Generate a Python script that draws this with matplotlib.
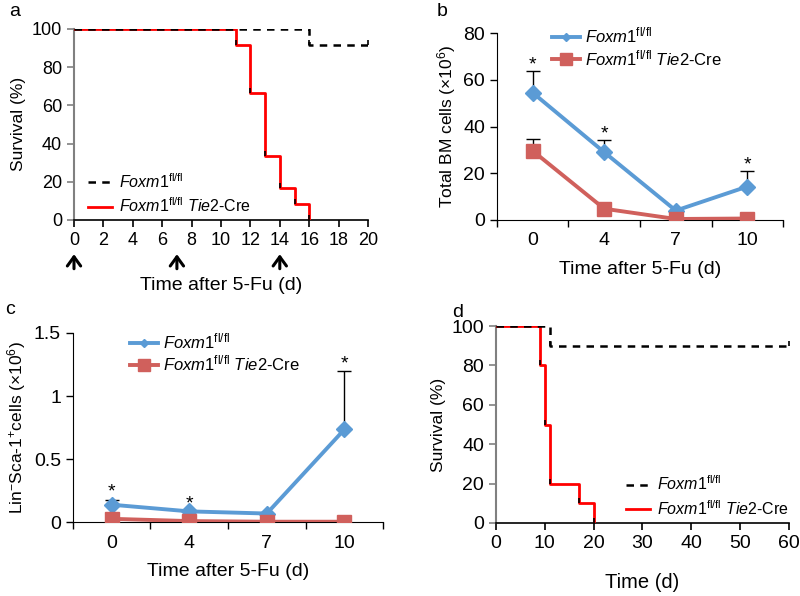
import numpy as np
import matplotlib
matplotlib.use("Agg")
from matplotlib import pyplot as plt
from matplotlib.lines import Line2D

plt.rcParams["font.family"] = ["Liberation Sans", "DejaVu Sans"]
plt.rcParams["mathtext.fontset"] = "custom"
plt.rcParams["mathtext.rm"] = "Liberation Sans"
plt.rcParams["mathtext.it"] = "Liberation Sans:italic"
plt.rcParams["font.size"] = 12

# ---------------- data ----------------
# panel a : survival after 5-Fu
a_ctrl_t = [0, 16, 20]
a_ctrl_s = [100, 91.7, 91.7]
a_ko_t = [0, 11, 12, 13, 14, 15, 16]
a_ko_s = [100, 91.7, 66.7, 33.3, 16.7, 8.3, 0]
a_xticks = [0, 2, 4, 6, 8, 10, 12, 14, 16, 18, 20]
a_arrows = [0, 7, 14]

# panel b : total BM cells
days = ["0", "4", "7", "10"]
b_ctrl = [54.5, 29.0, 4.0, 14.3]
b_ctrl_err = [9.3, 5.4, 0.0, 6.8]
b_ko = [29.6, 4.8, 0.4, 0.6]
b_ko_err = [5.1, 0.0, 0.0, 0.0]
b_star = [True, True, False, True]

# panel c : Lin- Sca-1+ cells
c_ctrl = [0.138, 0.085, 0.068, 0.735]
c_ctrl_err = [0.04, 0.0, 0.0, 0.46]
c_ko = [0.026, 0.008, 0.003, 0.003]
c_ko_err = [0.0, 0.0, 0.0, 0.0]
c_star = [True, True, False, True]

# panel d : survival
d_ctrl_t = [0, 11, 60]
d_ctrl_s = [100, 90, 90]
d_ko_t = [0, 9, 10, 11, 17, 20]
d_ko_s = [100, 80, 50, 20, 10, 0]

blue = "#5B9BD5"
red = "#D0605C"
lab_ctrl = r"$\mathit{Foxm1}^{\mathrm{fl/fl}}$"
lab_ko = r"$\mathit{Foxm1}^{\mathrm{fl/fl}}$ $\mathit{Tie2}$-Cre"

tick_up = [(0, 0), (0, 1)]


def survival(ax, t_ctrl, s_ctrl, t_ko, s_ko, xmax, fs):
    ax.step(t_ko, s_ko, where="post", color="red", lw=2, zorder=3)
    ax.step(t_ctrl, s_ctrl, where="post", color="black", lw=1.8, ls=(0, (3, 2.5)), zorder=4)
    ax.plot(t_ko[1:], s_ko[1:], ls="none", marker=tick_up, ms=7, mec="black", mew=1.2, zorder=5)
    ax.plot(t_ctrl[1:], s_ctrl[1:], ls="none", marker=tick_up, ms=7, mec="black", mew=1.2, zorder=5)
    ax.set_xlim(0, xmax)
    ax.set_ylim(0, 100)
    ax.set_yticks([0, 20, 40, 60, 80, 100])
    ax.set_ylabel("Survival (%)", fontsize=12.5)
    for s in ["top", "right"]:
        ax.spines[s].set_visible(False)
    ax.spines["left"].set_color("#808080")
    ax.spines["left"].set_linewidth(1.5)
    ax.spines["bottom"].set_linewidth(1.2)
    ax.tick_params(direction="out", length=5, width=1.2, labelsize=fs)
    ax.tick_params(axis="y", colors="#808080", labelcolor="black")
    h = [Line2D([], [], color="black", lw=1.8, ls=(0, (3, 2.5))),
         Line2D([], [], color="red", lw=2)]
    return h


def lines(ax, ctrl, ctrl_err, ko, ko_err, stars, ymax, yticks, star_off):
    x = np.arange(len(days))
    ax.errorbar(x, ctrl, yerr=[np.zeros(len(x)), ctrl_err], fmt="none",
                ecolor="black", elinewidth=1, capsize=5, capthick=1, zorder=2)
    ax.errorbar(x, ko, yerr=[np.zeros(len(x)), ko_err], fmt="none",
                ecolor="black", elinewidth=1, capsize=5, capthick=1, zorder=2)
    ax.plot(x, ctrl, color=blue, lw=2.8, marker="D", ms=8, zorder=3)
    ax.plot(x, ko, color=red, lw=2.8, marker="s", ms=10, zorder=4)
    for i in range(len(x)):
        if stars[i]:
            ax.text(x[i], ctrl[i] + ctrl_err[i] + star_off, "*", ha="center",
                    va="center", fontsize=14)
    ax.set_xlim(-0.5, len(x) - 0.5)
    ax.set_ylim(0, ymax)
    ax.set_yticks(yticks)
    ax.set_xticks(x)
    ax.set_xticklabels(days)
    ax.set_xticks(np.arange(-0.5, len(x)), minor=True)
    ax.tick_params(axis="x", which="major", length=0, pad=9, labelsize=14)
    ax.tick_params(axis="x", which="minor", length=5, width=1, direction="out")
    ax.tick_params(axis="y", length=5, width=1, direction="out", labelsize=14)
    for s in ["top", "right"]:
        ax.spines[s].set_visible(False)
    ax.set_xlabel("Time after 5-Fu (d)", labelpad=8, fontsize=14)
    h = [Line2D([], [], color=blue, lw=2.8, marker="D", ms=4),
         Line2D([], [], color=red, lw=2.8, marker="s", ms=8)]
    return h


fig = plt.figure(figsize=(8, 5.96), dpi=100)

# panel a
ax1 = fig.add_axes([0.0925, 0.631, 0.3675, 0.3205])
h = survival(ax1, a_ctrl_t, a_ctrl_s, a_ko_t, a_ko_s, 20, 13)
ax1.set_xticks(a_xticks)
ax1.set_xlabel("Time after 5-Fu (d)", labelpad=20, fontsize=14)
for t in a_arrows:
    ax1.annotate("", xy=(t, -0.165), xytext=(t, -0.27),
                 xycoords=("data", "axes fraction"),
                 textcoords=("data", "axes fraction"),
                 arrowprops=dict(arrowstyle="->,head_length=0.55,head_width=0.4",
                                 color="black", lw=2.2))
ax1.legend(h, [lab_ctrl, lab_ko], loc="lower left", bbox_to_anchor=(0.0, -0.05),
           frameon=False, fontsize=11.5, handlelength=1.5, handletextpad=0.4,
           labelspacing=0.35)

# panel b
ax2 = fig.add_axes([0.621, 0.631, 0.358, 0.3135])
h = lines(ax2, b_ctrl, b_ctrl_err, b_ko, b_ko_err, b_star, 80, [0, 20, 40, 60, 80], 2.5)
ax2.set_ylabel(r"Total BM cells (×10$^{6}$)", fontsize=12.5)
ax2.legend(h, [lab_ctrl, lab_ko], loc="upper left", bbox_to_anchor=(0.14, 1.12),
           frameon=False, fontsize=12, handlelength=1.7, handletextpad=0.3,
           labelspacing=0.15)

# panel c
ax3 = fig.add_axes([0.091, 0.124, 0.388, 0.3173])
h = lines(ax3, c_ctrl, c_ctrl_err, c_ko, c_ko_err, c_star, 1.5, [0, 0.5, 1, 1.5], 0.06)
ax3.set_yticks([0, 0.5, 1, 1.5])
ax3.set_yticklabels(["0", "0.5", "1", "1.5"])
ax3.set_ylabel(r"Lin$^{-}$Sca-1$^{+}$cells (×10$^{6}$)", fontsize=12.5)
ax3.legend(h, [lab_ctrl, lab_ko], loc="upper left", bbox_to_anchor=(0.135, 1.085),
           frameon=False, fontsize=12, handlelength=1.7, handletextpad=0.3,
           labelspacing=0.1)

# panel d
ax4 = fig.add_axes([0.62, 0.1225, 0.366, 0.3305])
h = survival(ax4, d_ctrl_t, d_ctrl_s, d_ko_t, d_ko_s, 60, 14)
ax4.set_xticks([0, 10, 20, 30, 40, 50, 60])
ax4.set_xlabel("Time (d)", labelpad=15, fontsize=14.5)
ax4.legend(h, [lab_ctrl, lab_ko], loc="lower left", bbox_to_anchor=(0.396, -0.046),
           frameon=False, fontsize=11.5, handlelength=1.5, handletextpad=0.4,
           labelspacing=0.35)

fig.text(0.012, 0.98, "a", fontsize=14, va="center")
fig.text(0.546, 0.98, "b", fontsize=14, va="center")
fig.text(0.006, 0.48, "c", fontsize=14, va="center")
fig.text(0.565, 0.476, "d", fontsize=14, va="center")

fig.savefig("out.png", dpi=100)
